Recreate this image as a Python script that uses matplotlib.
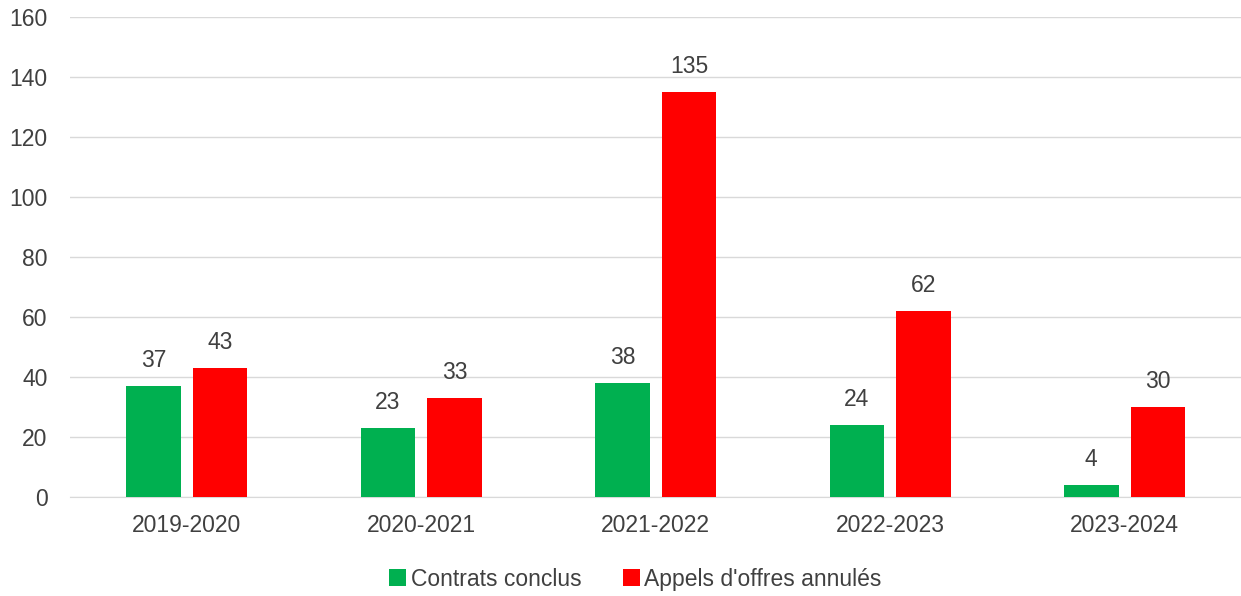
import numpy as np
import matplotlib
matplotlib.use("Agg")
import matplotlib.pyplot as plt

periodes = ["2019-2020", "2020-2021", "2021-2022", "2022-2023", "2023-2024"]
contrats = [37, 23, 38, 24, 4]
annules = [43, 33, 135, 62, 30]

plt.rcParams["font.family"] = ["Liberation Sans", "DejaVu Sans"]
TXT = "#404040"
FS = 16.5

fig = plt.figure(figsize=(12.41, 5.96), dpi=100)
ax = fig.add_axes([0.0561, 0.166, 0.9445, 0.8055])

x = np.arange(len(periodes))
w = 0.233
off = 0.142
b1 = ax.bar(x - off, contrats, w, color="#00B050", label="Contrats conclus", zorder=3)
b2 = ax.bar(x + off, annules, w, color="#FF0000", label="Appels d'offres annulés", zorder=3)
for bars in (b1, b2):
    ax.bar_label(bars, padding=10, fontsize=FS, color=TXT)

ax.set_xlim(-0.5, len(periodes) - 0.5)
ax.set_ylim(0, 160)
ax.set_yticks(range(0, 161, 20))
ax.set_xticks(x)
ax.set_xticklabels(periodes)
ax.tick_params(axis="both", length=0, labelsize=FS, labelcolor=TXT)
ax.tick_params(axis="x", pad=12)
ax.tick_params(axis="y", pad=16)
ax.grid(axis="y", color="#D9D9D9", lw=1, zorder=0)
for s in ("top", "right", "left"):
    ax.spines[s].set_visible(False)
ax.spines["bottom"].set_color("#D9D9D9")

fig.legend(loc="center", bbox_to_anchor=(0.512, 0.028), ncol=2, frameon=False,
           fontsize=FS, labelcolor=TXT, handlelength=0.75, handleheight=0.75,
           handletextpad=0.2, columnspacing=1.8)

fig.savefig("out.png")
